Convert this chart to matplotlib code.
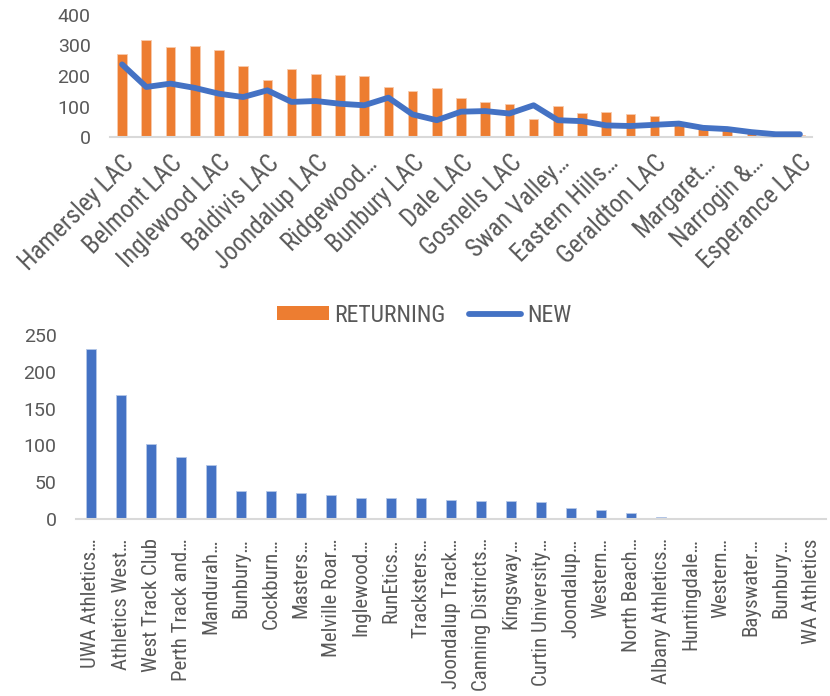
import matplotlib
matplotlib.use("Agg")
import matplotlib.pyplot as plt
from matplotlib.patches import Patch
from matplotlib.lines import Line2D

plt.rcParams["font.family"] = ["Roboto", "DejaVu Sans"]
COND = ["Roboto Condensed", "Roboto", "DejaVu Sans"]

ORANGE = "#ED7D31"
BLUE = "#4472C4"
GREY_TEXT = "#595959"
GREY_AXIS = "#D9D9D9"

# top chart: returning vs new members per LAC (29 centres, every other one labelled)
lac_labels = [
    "Hamersley LAC", "Belmont LAC", "Inglewood LAC", "Baldivis LAC",
    "Joondalup LAC", "Ridgewood…", "Bunbury LAC", "Dale LAC",
    "Gosnells LAC", "Swan Valley…", "Eastern Hills…", "Geraldton LAC",
    "Margaret…", "Narrogin &…", "Esperance LAC",
]
returning = [271, 317, 294, 300, 284, 234, 188, 224, 208, 202,
             199, 165, 152, 161, 127, 115, 107, 60, 101, 78,
             83, 74, 68, 49, 33, 28, 12, 7, 5]
new = [238, 164, 175, 161, 142, 131, 153, 115, 118, 109,
       104, 129, 74, 55, 83, 85, 77, 104, 55, 52,
       38, 36, 40, 44, 30, 26, 16, 9, 9]

# bottom chart: clubs
clubs = [
    "UWA Athletics…", "Athletics West…", "West Track Club", "Perth Track and…",
    "Mandurah…", "Bunbury…", "Cockburn…", "Masters…", "Melville Roar…",
    "Inglewood…", "RunEtics…", "Tracksters…", "Joondalup Track…",
    "Canning Districts…", "Kingsway…", "Curtin University…", "Joondalup…",
    "Western…", "North Beach…", "Albany Athletics…", "Huntingdale…",
    "Western…", "Bayswater…", "Bunbury…", "WA Athletics",
]
club_counts = [231, 168, 102, 84, 74, 38, 37.5, 35, 32.5, 28.5,
               28.5, 28.5, 26, 24, 24, 22.5, 15, 12, 8, 3,
               1.5, 1.5, 0.5, 0.5, 0.3]


def style_axis(ax, xpad):
    for side in ["top", "right", "left"]:
        ax.spines[side].set_visible(False)
    ax.spines["bottom"].set_color(GREY_AXIS)
    ax.spines["bottom"].set_linewidth(1.5)
    ax.tick_params(axis="both", length=0, colors=GREY_TEXT, labelsize=14)
    ax.tick_params(axis="y", pad=14)
    ax.tick_params(axis="x", pad=xpad)


fig = plt.figure(figsize=(8.3, 6.96), dpi=100)

# top chart
ax1 = fig.add_axes([110 / 830, 1 - 137 / 696, 702 / 830, 122 / 696])
style_axis(ax1, 10)
x1 = list(range(len(returning)))
ax1.bar(x1, returning, width=0.4, color=ORANGE, edgecolor="#F8CBAD", linewidth=0.6, zorder=2)
ax1.plot(x1, new, color=BLUE, linewidth=4.2, solid_capstyle="round", zorder=3)
ax1.set_xlim(-0.5, len(returning) - 0.5)
ax1.set_ylim(0, 400)
ax1.set_yticks([0, 100, 200, 300, 400])
ax1.set_xticks(x1[::2])
ax1.set_xticklabels(lac_labels, rotation=45, ha="right", rotation_mode="anchor",
                    family=COND, fontsize=18)

handles = [
    Patch(facecolor=ORANGE, edgecolor="none"),
    Line2D([0], [0], color=BLUE, linewidth=4.2, solid_capstyle="round"),
]
fig.legend(handles, ["RETURNING", "NEW"], loc="center", bbox_to_anchor=(424 / 830, 1 - 315 / 696),
           ncol=2, frameon=False, prop={"family": COND, "size": 17}, labelcolor=GREY_TEXT,
           handlelength=2.2, handleheight=0.5, handletextpad=0.25, columnspacing=1.0)

# bottom chart
ax2 = fig.add_axes([76 / 830, 1 - 519 / 696, 750 / 830, 184 / 696])
style_axis(ax2, 14)
x2 = list(range(len(club_counts)))
ax2.bar(x2, club_counts, width=0.31, color=BLUE, edgecolor="#B4C7E7", linewidth=0.6, zorder=2)
ax2.set_xlim(-0.5, len(club_counts) - 0.5)
ax2.set_ylim(0, 250)
ax2.set_yticks([0, 50, 100, 150, 200, 250])
ax2.set_xticks(x2)
ax2.set_xticklabels(clubs, rotation=90, ha="center", va="top", family=COND, fontsize=15)

fig.savefig("out.png", dpi=100)
